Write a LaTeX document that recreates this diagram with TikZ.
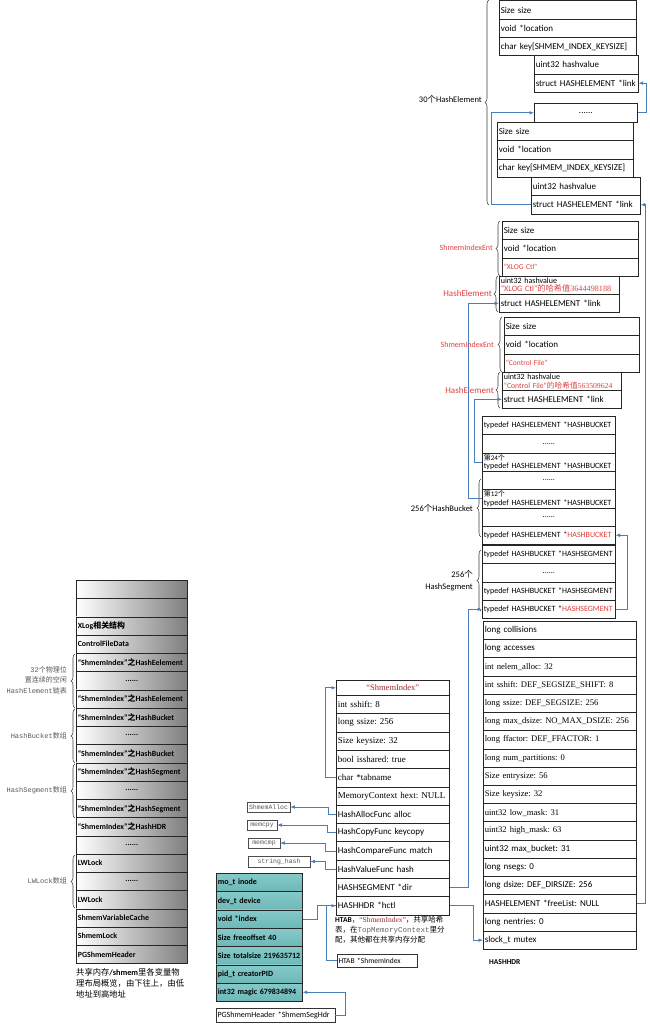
\documentclass[tikz,border=0pt]{standalone}
\usepackage{fontspec}
\setmainfont{Liberation Serif}
\setsansfont{Carlito}
\setmonofont{Liberation Mono}
\newfontfamily\zhfont{Noto Sans CJK SC}
\usetikzlibrary{arrows.meta,decorations.pathreplacing}
\newcommand\zh[1]{{\zhfont #1}}
\newcommand\fsz[2]{\fontsize{#1}{#2}\selectfont}
\newcommand\dd{\makebox[\hsize]{......}}
\definecolor{lnk}{HTML}{4A7EBB}
\definecolor{rd}{HTML}{E0403C}
\definecolor{dred}{HTML}{A0282A}
\definecolor{tealA}{HTML}{6DB8B8}
\definecolor{tealB}{HTML}{C8EAEA}
\definecolor{tealC}{HTML}{86C9C9}
\tikzset{
  rowc/.style={draw=black!85, line width=0.6pt, anchor=north west, inner xsep=1.5pt, inner ysep=0pt,
    minimum height=18.3pt, align=left, font=\sffamily\fsz{9}{10}},
  conn/.style={draw=lnk, line width=0.7pt, -{Latex[length=4.5pt,width=3.6pt]}},
  plainlink/.style={draw=lnk, line width=0.7pt},
  brc/.style={draw=black!75, line width=0.55pt, decorate, decoration={brace, amplitude=4pt}},
  lbl/.style={anchor=east, inner sep=0pt, font=\sffamily\fsz{8.5}{9.5}},
  rlbl/.style={anchor=east, inner sep=0pt, text=rd},
  glbl/.style={anchor=east, align=right, inner sep=0pt, font=\ttfamily\fsz{7}{10.5}, text=black!65},
  fbox/.style={draw=black!70, line width=0.5pt, inner sep=0pt, minimum height=10.5pt, font=\ttfamily\fsz{6.5}{7}, text=black!65},
  stk/.style={rowc, text width=108pt, minimum height=18.25pt, font=\sffamily\bfseries\fsz{7.9}{9}, left color=white, right color=black!50},
  tl/.style={rowc, text width=83pt, font=\sffamily\bfseries\fsz{8}{9}, top color=tealC, middle color=tealB, bottom color=tealA}
}
\begin{document}
\frenchspacing
\begin{tikzpicture}[x=1pt,y=-1pt]
\useasboundingbox (0,0) rectangle (650,1025);
\fill[white] (0,0) rectangle (650,1025);

% ---------- 30 HashElement group ----------
\node[rowc, text width=134pt] (A1) at (499,0.5) {Size size};
\node[rowc, text width=134pt] (A2) at (499,18.8) {void *location};
\node[rowc, text width=134pt] (A3) at (499,37.1) {char key[SHMEM\_INDEX\_KEYSIZE]};
\node[rowc, text width=101pt] (B1) at (534,55.4) {uint32 hashvalue};
\node[rowc, text width=101pt] (B2) at (534,73.7) {struct HASHELEMENT *link};
\node[rowc, text width=100pt, align=center, minimum height=19pt] (C) at (534,103) {......};
\node[rowc, text width=133pt] (D1) at (497,122) {Size size};
\node[rowc, text width=133pt] (D2) at (497,140.3) {void *location};
\node[rowc, text width=133pt] (D3) at (497,158.6) {char key[SHMEM\_INDEX\_KEYSIZE]};
\node[rowc, text width=106pt] (E1) at (531,177) {uint32 hashvalue};
\node[rowc, text width=106pt] (E2) at (531,195.3) {struct HASHELEMENT *link};
\draw[brc] (489,205) -- (489,0);
\node[lbl] (l30) at (482,99) {30\zh{个}HashElement};

% ---------- ShmemIndexEnt / HashElement 1 ----------
\node[rowc, text width=133pt] (F1) at (502,221) {Size size};
\node[rowc, text width=133pt] (F2) at (502,239.3) {void *location};
\node[rowc, text width=133pt, font=\sffamily\fsz{7.5}{8}, text=rd] (F3) at (502,257.6) {“XLOG Ctl”};
\node[rowc, text width=117pt, minimum height=18pt, font=\sffamily\fsz{8}{8.5}] (G1) at (499,276)
  {uint32 hashvalue\\\mbox{\color{rd}\fsz{8.2}{8.5}“XLOG Ctl”\zh{的哈希值}\rmfamily 3644498188}};
\node[rowc, text width=117pt, minimum height=18pt] (G2) at (499,294) {struct HASHELEMENT *link};
\draw[brc] (500,276) -- (500,221);
\node[rlbl, font=\sffamily\fsz{8}{9}] (lSE1) at (493,248) {ShmemIndexEnt};
\draw[brc] (498,312) -- (498,276);
\node[rlbl, font=\sffamily\fsz{9}{10}] (lHE1) at (492,293) {HashElement};

% ---------- ShmemIndexEnt / HashElement 2 ----------
\node[rowc, text width=132pt] (J1) at (504,317) {Size size};
\node[rowc, text width=132pt] (J2) at (504,335.3) {void *location};
\node[rowc, text width=132pt, font=\sffamily\fsz{7.5}{8}, text=rd] (J3) at (504,353.6) {“Control File”};
\node[rowc, text width=116pt, minimum height=18pt, font=\sffamily\fsz{8}{8.5}] (I1) at (502,372)
  {uint32 hashvalue\\\mbox{\color{rd}\fsz{7.7}{8.5}“Control File”\zh{的哈希值}\rmfamily 563509624}};
\node[rowc, text width=116pt, minimum height=18pt] (I2) at (502,390) {struct HASHELEMENT *link};
\draw[brc] (502,372) -- (502,317);
\node[rlbl, font=\sffamily\fsz{8}{9}] (lSE2) at (494,345) {ShmemIndexEnt};
\draw[brc] (500,408) -- (500,372);
\node[rlbl, font=\sffamily\fsz{9}{10}] (lHE2) at (494,390) {HashElement};

% ---------- HashBucket array ----------
\foreach \txt [count=\i] in {
  {typedef HASHELEMENT *HASHBUCKET},
  {\dd},
  {\fsz{7}{8}\zh{第}24\zh{个}\\\fsz{8}{8.5}typedef HASHELEMENT *HASHBUCKET},
  {\dd},
  {\fsz{7}{8}\zh{第}12\zh{个}\\\fsz{8}{8.5}typedef HASHELEMENT *HASHBUCKET},
  {\dd},
  {typedef HASHELEMENT *{\color{rd}HASHBUCKET}}}
{\node[rowc, text width=130pt, font=\sffamily\fsz{8}{8.5}] (K\i) at (482,{416+(\i-1)*18.3}) {\txt};}
\draw[brc] (481,537) -- (481,479);
\node[lbl] (lHB) at (473,508) {256\zh{个}HashBucket};

% ---------- HashSegment array ----------
\foreach \txt [count=\i] in {
  {typedef HASHBUCKET *HASHSEGMENT},
  {\dd},
  {typedef HASHBUCKET *HASHSEGMENT},
  {typedef HASHBUCKET *{\color{rd}HASHSEGMENT}}}
{\node[rowc, text width=130pt, font=\sffamily\fsz{8}{8.5}] (S\i) at (482,{545+(\i-1)*18.3}) {\txt};}
\draw[brc] (481,611) -- (481,550);
\node[lbl, align=right, font=\sffamily\fsz{8.5}{12}] (lHS) at (473,581) {256\zh{个}\\HashSegment};

% ---------- HASHHDR ----------
\foreach \txt [count=\i from 0] in {
  {long collisions},
  {long accesses},
  {\rmfamily\fsz{8.6}{9}int nelem\_alloc: 32},
  {\rmfamily\fsz{8.6}{9}int sshift: DEF\_SEGSIZE\_SHIFT: 8},
  {\rmfamily\fsz{8.6}{9}long ssize: DEF\_SEGSIZE: 256},
  {\rmfamily\fsz{8.6}{9}long max\_dsize: NO\_MAX\_DSIZE: 256},
  {\rmfamily\fsz{8.6}{9}long ffactor: DEF\_FFACTOR: 1},
  {\rmfamily\fsz{8.6}{9}long num\_partitions: 0},
  {\rmfamily\fsz{8.6}{9}Size entrysize: 56},
  {\rmfamily\fsz{8.6}{9}Size keysize: 32},
  {\rmfamily\fsz{8.6}{9}uint32 low\_mask: 31},
  {\rmfamily\fsz{8.6}{9}uint32 high\_mask: 63},
  {uint32 max\_bucket: 31},
  {long nsegs: 0},
  {long dsize: DEF\_DIRSIZE: 256},
  {HASHELEMENT *freeList: NULL},
  {long nentries: 0},
  {slock\_t mutex}}
{\node[rowc, text width=150pt, minimum height=18.22pt] (HH\i) at (483,{621+\i*18.22}) {\txt};}
\node[anchor=west, inner sep=0pt, font=\sffamily\bfseries\fsz{7.5}{8}] (hhl) at (489,962) {HASHHDR};

% ---------- HTAB ShmemIndex ----------
\node[rowc, text width=110pt, minimum height=15pt, align=center, font=\rmfamily\fsz{8.5}{9}, text=dred] (T0) at (336,680) {“ShmemIndex”};
\foreach \txt [count=\i] in {
  {\rmfamily int sshift: 8},
  {\rmfamily long ssize: 256},
  {\rmfamily Size keysize: 32},
  {\rmfamily bool isshared: true},
  {\rmfamily char *tabname},
  {\rmfamily MemoryContext hext: NULL},
  {HashAllocFunc alloc},
  {HashCopyFunc keycopy},
  {HashCompareFunc match},
  {HashValueFunc hash},
  {HASHSEGMENT *dir},
  {HASHHDR *hctl}}
{\node[rowc, text width=110pt] (T\i) at (336,{695+(\i-1)*18.3}) {\txt};}

\node[anchor=north west, inner sep=0pt, align=left, font=\fsz{7.5}{10}] (htab) at (335,916)
  {{\sffamily\bfseries HTAB}\zh{，}{\color{dred}“ShmemIndex”}\zh{，共享哈希}\\
   \zh{表，在}{\ttfamily\color{black!60}TopMemoryContext}\zh{里分}\\
   \zh{配，其他都在共享内存分配}};
\node[draw=black!80, line width=0.55pt, inner xsep=1.5pt, minimum width=80pt, minimum height=13pt, text width=77pt, align=left, font=\sffamily\fsz{7.5}{8}] (HT) at (377,960.5) {HTAB *ShmemIndex};

\node[fbox, minimum width=43pt] (Fa) at (268.5,807) {ShmemAlloc};
\node[fbox, minimum width=30pt] (Fb) at (262,825) {memcpy};
\node[fbox, minimum width=32pt] (Fc) at (264,843) {memcmp};
\node[fbox, minimum width=62pt] (Fd) at (279,861.5) {string\_hash};

% ---------- PGShmemHeader ----------
\foreach \txt [count=\i] in {
  {mo\_t inode},
  {dev\_t device},
  {void *index},
  {Size freeoffset 40},
  {Size totalsize 219635712},
  {pid\_t creatorPID},
  {int32 magic 679834894}}
{\node[tl] (P\i) at (216,{873+(\i-1)*18.3}) {\txt};}
\node[draw=black!80, line width=0.55pt, inner xsep=1.5pt, minimum height=14pt, text width=116pt, align=left, font=\sffamily\fsz{8}{9}] (PS) at (275.5,1015) {PGShmemHeader *ShmemSegHdr};

% ---------- shared memory stack ----------
\foreach \txt [count=\i] in {
  {}, {},
  {XLog\zh{相关结构}},
  {ControlFileData},
  {“ShmemIndex”\zh{之}HashEelement},
  {\dd},
  {“ShmemIndex”\zh{之}HashEelement},
  {“ShmemIndex”\zh{之}HashBucket},
  {\dd},
  {“ShmemIndex”\zh{之}HashBucket},
  {“ShmemIndex”\zh{之}HashSegment},
  {\dd},
  {“ShmemIndex”\zh{之}HashSegment},
  {“ShmemIndex”\zh{之}HashHDR},
  {\dd},
  {LWLock},
  {\dd},
  {LWLock},
  {ShmemVariableCache},
  {ShmemLock},
  {PGShmemHeader}}
{\node[stk] (L\i) at (76,{580+(\i-1)*18.25}) {\txt};}

\draw[brc] (75,708) -- (75,654);
\node[glbl] (g1) at (67,680) {32\zh{个物理位}\\\zh{置连续的空闲}\\HashElement\zh{链表}};
\draw[brc] (75,763) -- (75,709);
\node[glbl] (g2) at (67,736) {HashBucket\zh{数组}};
\draw[brc] (75,818) -- (75,764);
\node[glbl] (g3) at (67,790) {HashSegment\zh{数组}};
\draw[brc] (75,908) -- (75,855);
\node[glbl] (g4) at (67,881) {LWLock\zh{数组}};

\node[anchor=north west, inner sep=0pt, align=left, font=\zhfont\fsz{8.3}{11}] (cap) at (76,968)
  {共享内存{\sffamily\bfseries /shmem}里各变量物\\理布局概览，由下往上，由低\\地址到高地址};

% ---------- connectors ----------
\draw[conn] (C.east) -- ++(9,0) |- (B2.east);
\draw[conn] (E2.west) -- ++(-40,0) |- (C.west);
\draw[conn] (HH15.east) -- ++(9,0) |- (E2.east);
\draw[conn] (K5.west) -- ++(-14,0) |- (G2.west);
\draw[conn] (K3.west) -- ++(-8,0) |- (I2.west);
\draw[conn] (S4.east) -- ++(12,0) |- (K7.east);
\draw[conn] (T11.east) -- ++(19,0) |- (S4.west);
\draw[conn] (T12.east) -- ++(24,0) |- (HH17.west);
\draw[conn] (T5.west) -- ++(-11,0) |- (T0.west);
\draw[conn] (T7.west) -- ++(-8,0) |- (Fa.east);
\draw[conn] (T8.west) -- ++(-9,0) |- (Fb.east);
\draw[conn] (T9.west) -- ++(-11,0) |- (Fc.east);
\draw[conn] (T10.west) -- ++(-11,0) |- (Fd.east);
\draw[plainlink] (HT.west) -- ++(-10,0) |- (T12.west);
\draw[conn] (P3.east) -- ++(15,0) |- (T12.west);
\draw[conn] (PS.east) -- ++(10,0) |- (P7.east);
\end{tikzpicture}
\end{document}
